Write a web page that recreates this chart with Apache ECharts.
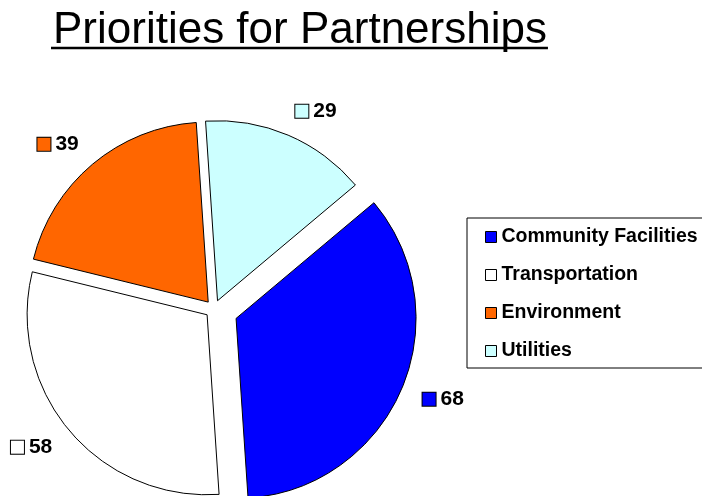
<!DOCTYPE html>
<html><head><meta charset="utf-8">
<script src="https://cdn.jsdelivr.net/npm/echarts@6/dist/echarts.min.js"></script>
<style>html,body{margin:0;padding:0;background:#fff}#c{width:702px;height:496px}</style>
</head><body><div id="c"></div>
<script>
const categories = ['Community Facilities', 'Transportation', 'Environment', 'Utilities'];
const values = [68, 58, 39, 29];
const titleText = 'Priorities for Partnerships';

const palette = ['#0000FF', '#FFFFFF', '#FF6600', '#CCFFFF'];
const font = "'Liberation Sans', Arial, sans-serif";

function richFor(i) {
  return {
    box: { width: 13, height: 13, backgroundColor: palette[i], borderColor: '#000', borderWidth: 1 },
    val: { fontFamily: font, fontSize: 21, fontWeight: 'bold', color: '#000', padding: [0, 0, 0, 5] }
  };
}

function buildData(isVisible) {
  return categories.map((name, i) => {
    const vis = isVisible(i);
    return {
      name: name,
      value: values[i],
      selected: true,
      itemStyle: vis ? { color: palette[i], borderColor: '#000', borderWidth: 1 }
                     : { color: 'rgba(0,0,0,0)', borderWidth: 0 },
      label: vis ? { show: true, rich: richFor(i) } : { show: false }
    };
  });
}

function pieSeries(offset, isVisible) {
  return {
    type: 'pie',
    center: [214, 309],
    radius: 180,
    startAngle: 40,
    clockwise: true,
    selectedMode: 'multiple',
    selectedOffset: offset,
    avoidLabelOverlap: false,
    silent: true,
    animation: false,
    label: {
      position: 'outside',
      distanceToLabelLine: -3,
      formatter: p => '{box| }{val|' + p.value + '}'
    },
    labelLine: { show: false, length: 26, length2: 0 },
    emphasis: { disabled: true },
    data: buildData(isVisible)
  };
}

const chart = echarts.init(document.getElementById('c'), null, { renderer: 'canvas' });

const titleSize = 44;
const mctx = document.createElement('canvas').getContext('2d');
mctx.font = titleSize + "px 'Liberation Sans', Arial, sans-serif";
const titleW = mctx.measureText(titleText).width;
const titleLeft = 53;

chart.setOption({
  backgroundColor: '#fff',
  color: palette,
  title: {
    text: titleText, left: titleLeft, top: 9, padding: 0,
    textStyle: { fontFamily: font, fontSize: titleSize, fontWeight: 'normal', color: '#000' }
  },
  graphic: [{
    type: 'line',
    shape: { x1: titleLeft - 2, y1: 48, x2: titleLeft + titleW + 1, y2: 48 },
    style: { stroke: '#000', lineWidth: 2.5 },
    silent: true
  }],
  legend: {
    orient: 'vertical', left: 467, top: 218,
    itemWidth: 11, itemHeight: 11, itemGap: 18,
    padding: [9, 40, 7, 18],
    borderColor: '#000', borderWidth: 1, borderRadius: 0,
    selectedMode: false, icon: 'rect',
    textStyle: { fontFamily: font, fontSize: 19.5, fontWeight: 'bold', color: '#000', lineHeight: 20 },
    data: categories.map((n, i) => ({ name: n, itemStyle: { color: palette[i], borderColor: '#000', borderWidth: 1 } }))
  },
  series: [
    pieSeries(9, i => i !== 0),
    pieSeries(24, i => i === 0)
  ]
});
</script></body></html>
